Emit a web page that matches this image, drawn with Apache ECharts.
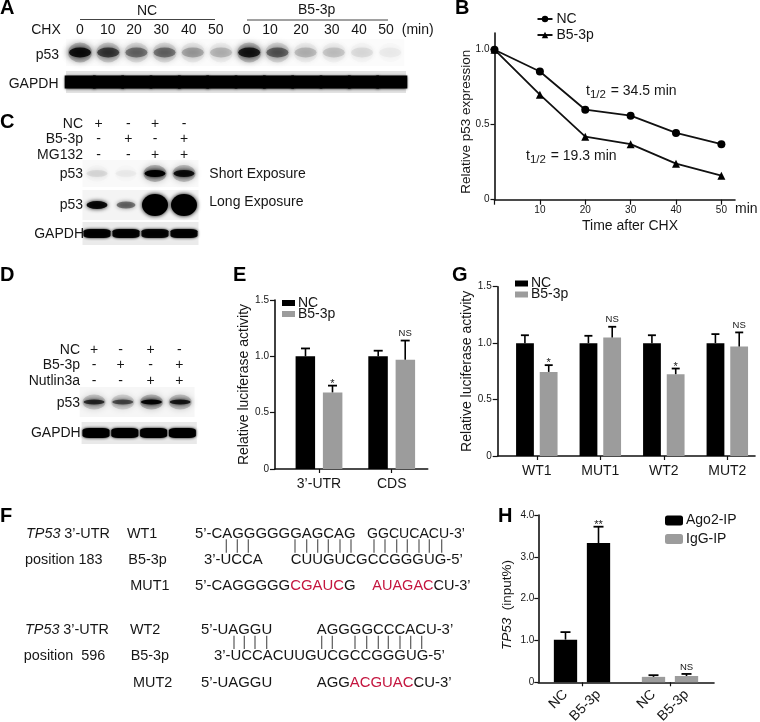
<!DOCTYPE html>
<html><head><meta charset="utf-8">
<script src="https://cdn.jsdelivr.net/npm/echarts@6/dist/echarts.min.js"></script>
<style>html,body{margin:0;padding:0;background:#fff}#c{width:760px;height:722px}</style>
</head><body><div id="c"></div>
<script>
// ---------- data ----------
const timeTicks = [10, 20, 30, 40, 50];
const timePoints = [0, 10, 20, 30, 40, 50];
const decayNC = [1.0, 0.855, 0.60, 0.56, 0.445, 0.37];
const decayB5 = [1.0, 0.70, 0.42, 0.37, 0.24, 0.16];

const catsE = ["3’-UTR", "CDS"];
const ncE = [1.0, 1.0];
const b5E = [0.68, 0.97];
const ncTopE = [1.07, 1.05];
const b5TopE = [0.74, 1.14];
const sigE = ["*", "NS"];

const catsG = ["WT1", "MUT1", "WT2", "MUT2"];
const ncG = [1.0, 1.0, 1.0, 1.0];
const b5G = [0.745, 1.05, 0.725, 0.97];
const ncTopG = [1.07, 1.065, 1.07, 1.08];
const b5TopG = [0.805, 1.145, 0.775, 1.095];
const sigG = ["*", "NS", "*", "NS"];

const catsH = ["NC", "B5-3p"];
const ago2H = [1.02, 3.33];
const iggH = [0.13, 0.15];
const ago2TopH = [1.2, 3.72];
const iggTopH = [0.17, 0.2];
const sigAgo2H = ["", "**"];
const sigIggH = ["", "NS"];

const chxLabels = ["0","10","20","30","40","50"];
const blotA_p53 = [0.85,0.58,0.38,0.38,0.22,0.16,0.78,0.44,0.16,0.13,0.07,0.035];
const blotC_short = [0.07,0.03,1,0.85];
const blotC_long = [0.9,0.42,1,1];
const blotC_gapdh = [0.95,0.95,0.9,0.95];
const blotD_p53 = [0.68,0.52,0.95,0.78];
const blotD_gapdh = [1,1,1,1];

const signsC = [["+","-","+","-"],["-","+","-","+"],["-","-","+","+"]];
const signsD = [["+","-","+","-"],["-","+","-","+"],["-","-","+","+"]];

// ---------- helpers ----------
const FF = '"Liberation Sans", Arial, sans-serif';
const INK = '#161616', GRAY = '#9c9c9c', RED = '#c4163f';
const grids = [], xAxes = [], yAxes = [], series = [], gfx = [];

function t(x, y, text, o) {
  o = o || {};
  gfx.push({type:'text', x, y, rotation:o.rot||0, z:20, silent:true, style:{
    text, fill:o.fill||INK, fontFamily:FF, fontSize:o.size||14, fontWeight:o.weight||'normal',
    fontStyle:o.style||'normal', textAlign:o.align||'left', textVerticalAlign:'middle', rich:o.rich
  }});
}
function hline(x1, y1, x2, y2, color, w) {
  gfx.push({type:'line', z:20, silent:true, shape:{x1,y1,x2,y2}, style:{stroke:color||'#444', lineWidth:w||1.2}});
}
function addGrid(left, top, width, height, extra) {
  grids.push(Object.assign({left, top, width, height, containLabel:false, outerBoundsMode:'none'}, extra||{}));
  return grids.length - 1;
}
function blot(left, top, width, height, bg, vals, size, blur, symbol, halo) {
  const g = addGrid(left, top, width, height, {show:true, backgroundColor:bg, borderWidth:0});
  xAxes.push({gridIndex:g, type:'category', show:false, data:vals.map((_,i)=>String(i))});
  yAxes.push({gridIndex:g, type:'value', show:false, min:-1, max:1});
  const sz = (i)=> Array.isArray(size[0]) ? size[i] : size;
  if (halo) series.push({type:'scatter', xAxisIndex:xAxes.length-1, yAxisIndex:yAxes.length-1, silent:true,
    clip:false, symbol:'circle',
    data:vals.map((v,i)=>({value:[i,0], symbolSize:[sz(i)[0]+2, sz(i)[1]+10],
      itemStyle:{color:'#000', opacity:v*0.22, shadowBlur:7, shadowColor:'#000'}}))});
  series.push({type:'scatter', xAxisIndex:xAxes.length-1, yAxisIndex:yAxes.length-1, silent:true,
    clip:false, symbol:symbol||'circle',
    data:vals.map((v,i)=>({value:[i,0], symbolSize:sz(i),
      itemStyle:{color:'#000', opacity:v, shadowBlur:blur, shadowColor:'#000'}}))});
}
function errBars(xi, yi, xs, tops, vals, sigs, px, cap) {
  series.push({type:'custom', xAxisIndex:xi, yAxisIndex:yi, silent:true, z:5, clip:false,
    data:xs.map((x,i)=>[x, vals[i], tops[i]]),
    renderItem(params, api) {
      const i = params.dataIndex;
      const b = api.coord([api.value(0), api.value(1)]);
      const u = api.coord([api.value(0), api.value(2)]);
      const x = b[0] + px;
      const kids = [
        {type:'line', shape:{x1:x,y1:b[1],x2:x,y2:u[1]}, style:{stroke:'#000',lineWidth:1.6}},
        {type:'line', shape:{x1:x-cap/2,y1:u[1],x2:x+cap/2,y2:u[1]}, style:{stroke:'#000',lineWidth:1.8}}
      ];
      if (sigs[i]) kids.push({type:'text', style:{text:sigs[i], x, y:u[1]-(sigs[i]==='NS'?7:2),
        fill:INK, fontFamily:FF, fontSize:sigs[i]==='NS'?9.5:11, textAlign:'center', textVerticalAlign:'middle'}});
      return {type:'group', children:kids};
    }});
}
const axisLine = {show:true, onZero:false, lineStyle:{color:'#111', width:1.6}};
const axisTick = (len, vals)=>({show:true, length:len, lineStyle:{color:'#111', width:1.2}, customValues:vals});
const oneDec = v => v===0 ? '0' : v.toFixed(1);
function barAxes(g, min, max, cats, yMax, yTicks, yName, nameGap, labelSize) {
  xAxes.push({gridIndex:g, type:'value', min, max, splitLine:{show:false}, axisLine,
    axisTick:axisTick(4, cats.map((_,i)=>i)),
    axisLabel:{customValues:cats.map((_,i)=>i), formatter:v=>cats[v], color:INK, fontFamily:FF, fontSize:14, margin:8}});
  yAxes.push({gridIndex:g, type:'value', min:0, max:yMax, splitLine:{show:false}, axisLine,
    axisTick:axisTick(5, yTicks),
    axisLabel:{customValues:yTicks, formatter:oneDec, color:INK, fontFamily:FF, fontSize:labelSize||10, margin:6},
    name:yName, nameLocation:'middle', nameGap, nameTextStyle:{color:INK, fontFamily:FF, fontSize:14}});
}
function barLegend(left, top) {
  return {left, top, padding:0, orient:'vertical', itemWidth:13, itemHeight:6, itemGap:-3, selectedMode:false,
    icon:'rect', formatter:n=>n.trim(), textStyle:{color:INK, fontFamily:FF, fontSize:14, padding:[0,0,0,-2]},
    data:['NC ','B5-3p ']};
}

// ---------- panel letters ----------
[['A',0,8],['B',455,8],['C',0,122],['D',0,275],['E',233,275],['F',0,516],['G',452,275],['H',498,516]]
  .forEach(p=>t(p[1],p[2],p[0],{size:20,weight:'bold',fill:'#000'}));

// ---------- panel A ----------
t(147,11,'NC',{align:'center'});
t(316.7,10.5,'B5-3p',{align:'center'});
hline(80,19.5,215,19.5,'#444',1.2);
hline(247,20,388,20,'#444',1.2);
t(46,30,'CHX',{align:'center'});
const chxX = [80,107.7,134,161.3,188.7,215.7,246.7,270,301,331.7,359,386];
chxX.forEach((x,i)=>t(x,30,chxLabels[i%6],{align:'center'}));
t(417.7,30,'(min)',{align:'center'});
t(59,55,'p53',{align:'right'});
t(58.5,84,'GAPDH',{align:'right'});
blot(65.9,39,338.4,27,'#fbfbfb',blotA_p53,[22,10],7,'circle',true);
blot(66,71,340,22,'#e2e2e2',[1,1,1,1,1,1,1,1,1,1,1,1],[31,13],3,'rect');

// ---------- panel C ----------
const colsC = [98.7,128.3,155,184];
['NC','B5-3p','MG132'].forEach((n,r)=>{
  t(83,[124,139,155][r],n,{align:'right'});
  signsC[r].forEach((s,i)=>t(colsC[i],[124,139,155][r],s,{align:'center'}));
});
t(83,174,'p53',{align:'right'});
t(83,205,'p53',{align:'right'});
t(84,234,'GAPDH',{align:'right'});
t(209.3,173.7,'Short Exposure');
t(209.3,202,'Long Exposure');
blot(82.5,160,116,27,'#f9f9f9',blotC_short,[21,7],4,'circle',true);
blot(82.5,190,116,30,'#f4f4f4',blotC_long,[[21,8],[19,7],[26,22],[26,22]],4,'circle');
blot(82.5,222,116,23,'#ebebeb',blotC_gapdh,[27,9],3,'roundRect');

// ---------- panel D ----------
const colsD = [94,120.7,150.7,179.3];
['NC','B5-3p','Nutlin3a'].forEach((n,r)=>{
  t(80,[350,365.3,380.7][r],n,{align:'right'});
  signsD[r].forEach((s,i)=>t(colsD[i],[350,365.3,380.7][r],s,{align:'center'}));
});
t(80,403.3,'p53',{align:'right'});
t(80.7,432.7,'GAPDH',{align:'right'});
blot(79.7,387,114.8,30,'#f6f6f6',blotD_p53,[21,5],4,'circle',true);
blot(81.6,422,115.2,22,'#e9e9e9',blotD_gapdh,[27,10],3,'roundRect');

// ---------- panel B ----------
const gB = addGrid(494.5,33,240.5,166.7);
xAxes.push({gridIndex:gB,type:'value',min:0,max:53,splitLine:{show:false},axisLine,
  axisTick:axisTick(5,[0].concat(timeTicks)),
  axisLabel:{customValues:timeTicks,color:INK,fontFamily:FF,fontSize:10,margin:6}});
yAxes.push({gridIndex:gB,type:'value',min:0,max:1.1113,splitLine:{show:false},axisLine,
  axisTick:axisTick(4,[0,0.5,1]),
  axisLabel:{customValues:[0,0.5,1],formatter:oneDec,color:INK,fontFamily:FF,fontSize:10,margin:5}});
const lineSeries=(name,vals,sym)=>({type:'line',name,xAxisIndex:xAxes.length-1,yAxisIndex:yAxes.length-1,
  clip:false,symbol:sym,symbolSize:8,silent:true,
  lineStyle:{color:'#111',width:1.8},itemStyle:{color:'#000'},
  data:vals.map((v,i)=>[timePoints[i],v])});
series.push(lineSeries('NC',decayNC,'circle'),lineSeries('B5-3p',decayB5,'triangle'));
t(466,121.7,'Relative p53 expression',{align:'center',rot:Math.PI/2,size:13.5});
t(630,226,'Time after CHX',{align:'center'});
t(735,209,'min');
const richT={n:{fontFamily:FF,fontSize:14,fill:INK,color:INK,lineHeight:20,verticalAlign:'middle'},
  s:{fontFamily:FF,fontSize:11.5,fill:INK,color:INK,lineHeight:20,verticalAlign:'bottom',padding:[6,1,0,0]}};
t(586,91,'{n|t}{s|1/2}{n| = 34.5 min}',{rich:richT});
t(526,156,'{n|t}{s|1/2}{n| = 19.3 min}',{rich:richT});

// ---------- panel E ----------
const gE = addGrid(275,300,152.7,169);
barAxes(gE,-0.605,1.495,catsE,1.5,[0,0.5,1,1.5],'Relative luciferase activity',22,10);
const eX=xAxes.length-1,eY=yAxes.length-1;
const bar=(name,cats,vals,color,xi,yi,w,gap)=>({type:'bar',name,xAxisIndex:xi,yAxisIndex:yi,silent:true,
  barWidth:w,barGap:gap,itemStyle:{color},data:vals.map((v,i)=>[i,v])});
series.push(bar('NC ',catsE,ncE,'#000',eX,eY,19.5,'40%'),bar('B5-3p ',catsE,b5E,GRAY,eX,eY,19.5,'40%'));
errBars(eX,eY,catsE.map((_,i)=>i),ncTopE,ncE,catsE.map(()=>''),-13.5,9);
errBars(eX,eY,catsE.map((_,i)=>i),b5TopE,b5E,sigE,13.5,9);

// ---------- panel G ----------
const gG = addGrid(497.7,286.7,257.3,169.3);
barAxes(gG,-0.616,3.436,catsG,1.5,[0,0.5,1,1.5],'Relative luciferase activity',18,10);
const gX=xAxes.length-1,gY=yAxes.length-1;
series.push(bar('NC ',catsG,ncG,'#000',gX,gY,17.8,'33%'),bar('B5-3p ',catsG,b5G,GRAY,gX,gY,17.8,'33%'));
errBars(gX,gY,catsG.map((_,i)=>i),ncTopG,ncG,catsG.map(()=>''),-11.9,8);
errBars(gX,gY,catsG.map((_,i)=>i),b5TopG,b5G,sigG,11.9,8);

// ---------- panel H ----------
const gH = addGrid(538.3,515,175.7,167.3);
const hSub = 0.1875;
const hLabels=[0,1].reduce((a,g)=>a.concat([g-hSub,g+hSub]),[]);
xAxes.push({gridIndex:gH,type:'value',min:-0.4966,max:1.5,splitLine:{show:false},axisLine,
  axisTick:axisTick(4,[0,1]),
  axisLabel:{customValues:hLabels,rotate:45,margin:10,color:INK,fontFamily:FF,fontSize:14,
    formatter:v=>catsH[v>Math.round(v)?1:0]}});
yAxes.push({gridIndex:gH,type:'value',min:0,max:4,splitLine:{show:false},axisLine,
  axisTick:axisTick(4,[0,1,2,3,4]),
  axisLabel:{customValues:[0,1,2,3,4],formatter:oneDec,color:INK,fontFamily:FF,fontSize:10,margin:4}});
const hX=xAxes.length-1,hY=yAxes.length-1;
const ago2X=ago2H.map((_,i)=>0+(i?hSub:-hSub)), iggX=iggH.map((_,i)=>1+(i?hSub:-hSub));
series.push({type:'bar',name:'Ago2-IP',xAxisIndex:hX,yAxisIndex:hY,silent:true,barWidth:23.3,barGap:'-100%',
  itemStyle:{color:'#000'},data:ago2H.map((v,i)=>[ago2X[i],v])});
series.push({type:'bar',name:'IgG-IP',xAxisIndex:hX,yAxisIndex:hY,silent:true,barWidth:23.3,barGap:'-100%',
  itemStyle:{color:GRAY},data:iggH.map((v,i)=>[iggX[i],v])});
errBars(hX,hY,ago2X,ago2TopH,ago2H,sigAgo2H,0,10);
errBars(hX,hY,iggX,iggTopH,iggH,sigIggH,0,10);
t(507,605,'{i|TP53}{n|  (input%)}',{align:'center',rot:Math.PI/2,rich:{
  i:{fontFamily:FF,fontSize:13.5,fontStyle:'italic',fill:INK,color:INK},n:{fontFamily:FF,fontSize:13.5,fill:INK,color:INK}}});

// ---------- panel F ----------
const rowsY=[534,560,586,630.3,656,682.7];
const seqRich=s=>({n:{fontFamily:FF,fontSize:s,color:INK,fill:INK},r:{fontFamily:FF,fontSize:s,color:RED,fill:RED}});
const richL={i:{fontFamily:FF,fontSize:14.4,fontStyle:'italic',color:INK,fill:INK},n:{fontFamily:FF,fontSize:14.4,color:INK,fill:INK}};
t(26,rowsY[0],'{i|TP53} {n|3’-UTR}',{rich:richL});
t(25,rowsY[1],'position 183',{size:14.4});
t(25,rowsY[3],'{i|TP53} {n|3’-UTR}',{rich:richL});
t(23.7,rowsY[4],'position  596',{size:14.4});
[[127,0,'WT1'],[128.3,1,'B5-3p'],[130.3,2,'MUT1'],[130,3,'WT2'],[130.7,4,'B5-3p'],[133,5,'MUT2']]
  .forEach(a=>t(a[0],rowsY[a[1]],a[2],{size:14.4}));
[[195,0,"{n|5’-CAGGGGGGAGCAG}",14.9],[367,0,"{n|GGCUCACU-3’}",14.1],
 [204,1,"{n|3’-UCCA}",14.9],[290.7,1,"{n|CUUGUCGCCGGGUG-5’}",14.9],
 [195,2,"{n|5’-CAGGGGG}{r|CGAUC}{n|G}",14.9],[372.3,2,"{r|AUAGAC}{n|CU-3’}",14.5],
 [201,3,"{n|5’-UAGGU}",14.9],[316.7,3,"{n|AGGGGCCCACU-3’}",14.9],
 [214,4,"{n|3’-UCCACUUGUCGCCGGGUG-5’}",14.9],
 [201,5,"{n|5’-UAGGU}",14.9],[316.7,5,"{n|AGG}{r|ACGUAC}{n|CU-3’}",14.9]]
  .forEach(a=>t(a[0],rowsY[a[1]],a[2],{rich:seqRich(a[3])}));
[679,712,745,885,920,953,985,1020,1053,1122,1155,1190,1222,1257,1288,1325]
  .forEach(x=>hline(x/3,539.3,x/3,552.7,'#666',1.3));
[702,733,765,800,965,997,1065,1100,1135,1165,1200,1232,1265]
  .forEach(x=>hline(x/3,635.7,x/3,649,'#666',1.3));

// ---------- chart ----------
const chart = echarts.init(document.getElementById('c'), null, {renderer:'canvas'});
chart.setOption({
  animation:false, backgroundColor:'#fff', tooltip:{show:false},
  grid:grids, xAxis:xAxes, yAxis:yAxes, series,
  legend:[
    {left:536.5,top:12,padding:0,orient:'vertical',itemWidth:15,itemHeight:8,itemGap:2,selectedMode:false,
     textStyle:{color:INK,fontFamily:FF,fontSize:14,padding:[0,0,0,-1]},data:['NC','B5-3p']},
    barLegend(282,296),
    barLegend(515,276.5),
    {left:665,top:513.5,padding:0,orient:'vertical',itemWidth:18,itemHeight:10,itemGap:4.5,selectedMode:false,icon:'roundRect',
     textStyle:{color:INK,fontFamily:FF,fontSize:14,padding:[0,0,0,-2]},data:['Ago2-IP','IgG-IP']}
  ],
  graphic:{elements:gfx}
});
</script></body></html>
